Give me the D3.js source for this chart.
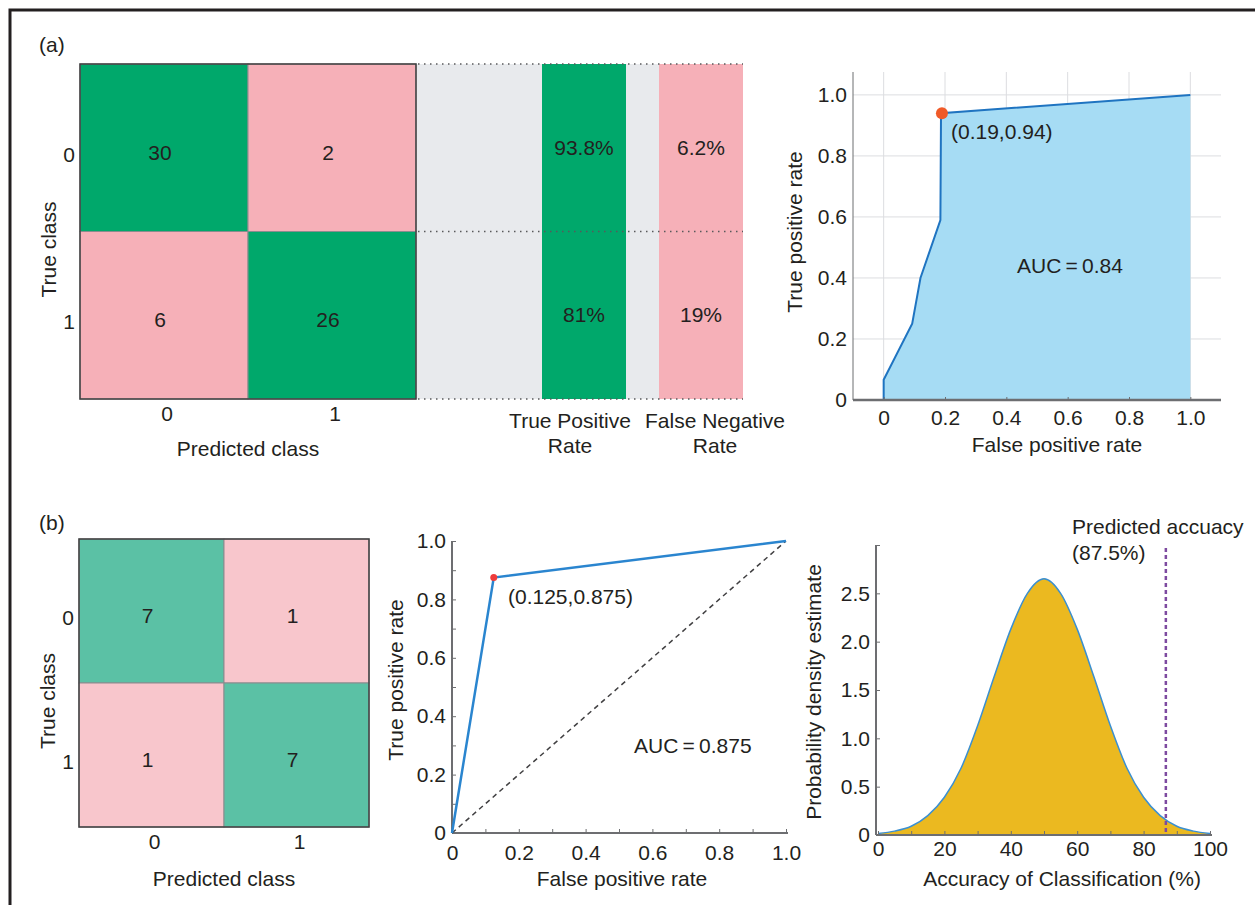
<!DOCTYPE html>
<html lang="en">
<head>
  <meta charset="UTF-8">
  <title>Classification results</title>
  <style>
    body {
      margin: 0;
      background: #fff;
    }
    svg text {
      font-family: 'Liberation Sans', Arial, sans-serif;
      font-size: 21px;
      fill: #231f20;
    }
    .axis path, .axis line {
      stroke: #6d6e71;
    }
    .axis text {
      font-size: 21px;
      fill: #231f20;
    }
  </style>
</head>
<body>
  <div id="chart"></div>

  <script src="https://d3js.org/d3.v7.min.js"></script>
  <script>
    // values
    const classLabels = ['0', '1'];
    const confA = [[30, 2], [6, 26]];
    const confB = [[7, 1], [1, 7]];
    const tprA = [93.8, 81];
    const fnrA = [6.2, 19];

    const rocAFpr = [0, 0, 0.093, 0.12, 0.185, 0.187, 1.0];
    const rocATpr = [0, 0.066, 0.25, 0.40, 0.59, 0.94, 1.0];
    const rocAPoint = [0.19, 0.94];

    const rocBFpr = [0, 0.125, 1];
    const rocBTpr = [0, 0.875, 1];
    const rocBPoint = [0.125, 0.875];

    const densX = [0, 5, 10, 15, 20, 25, 30, 35, 40, 45, 50, 55, 60, 65, 70, 75, 80, 85, 90, 95, 100];
    const densY = [0.015, 0.04, 0.09, 0.2, 0.39, 0.69, 1.13, 1.64, 2.13, 2.5, 2.65, 2.5, 2.13, 1.64, 1.13, 0.69, 0.39, 0.2, 0.09, 0.04, 0.015];
    const predictedAcc = 86.7;

    const rocTicks = [0, 0.2, 0.4, 0.6, 0.8, 1.0];
    const rocMinorTicks = [0, 0.1, 0.2, 0.3, 0.4, 0.5, 0.6, 0.7, 0.8, 0.9, 1.0];
    const densXTicks = [0, 10, 20, 30, 40, 50, 60, 70, 80, 90, 100];
    const densYTicks = [0, 0.5, 1.0, 1.5, 2.0, 2.5, 3.0];

    const green = '#00a86b', pink = '#f6b0b8';
    const greenB = '#5bc1a5', pinkB = '#f8c6cc';

    const svg = d3.select('#chart').append('svg')
      .attr('width', 1255)
      .attr('height', 905);

    // frame around the figure (only top and left edges fall inside the picture)
    svg.append('path')
      .attr('d', 'M10,905V10H1255')
      .attr('fill', 'none')
      .attr('stroke', '#231f20')
      .attr('stroke-width', 3);

    svg.append('text').attr('x', 39).attr('y', 52).text('(a)');
    svg.append('text').attr('x', 39).attr('y', 530).text('(b)');

    const fmtRoc = d => d === 0 ? '0' : d3.format('.1f')(d);

    // ---------- confusion matrix ----------
    function confusion(data, box, colors, labelY) {
      const x = d3.scaleBand().domain([0, 1]).range([box.x0, box.x1]);
      const y = d3.scaleBand().domain([0, 1]).range([box.y0, box.y1]);
      const cells = [];
      data.forEach((row, i) => row.forEach((v, j) => cells.push({ i, j, v })));

      const g = svg.append('g');
      g.selectAll('rect.cell')
        .data(cells)
        .enter().append('rect')
        .attr('class', 'cell')
        .attr('x', d => x(d.j))
        .attr('y', d => y(d.i))
        .attr('width', x.bandwidth())
        .attr('height', y.bandwidth())
        .attr('fill', d => d.i === d.j ? colors[0] : colors[1])
        .attr('stroke', '#8a8c8e')
        .attr('stroke-width', 1);

      g.selectAll('text.val')
        .data(cells)
        .enter().append('text')
        .attr('x', d => x(d.j) + x.bandwidth() / 2 - 4)
        .attr('y', d => y(d.i) + y.bandwidth() / 2 + 12)
        .attr('text-anchor', 'middle')
        .text(d => d.v);

      g.append('rect')
        .attr('x', box.x0).attr('y', box.y0)
        .attr('width', box.x1 - box.x0).attr('height', box.y1 - box.y0)
        .attr('fill', 'none')
        .attr('stroke', '#414042')
        .attr('stroke-width', 1.5);

      g.selectAll('text.ylab')
        .data(classLabels)
        .enter().append('text')
        .attr('x', box.x0 - 5)
        .attr('y', (d, i) => y(i) + y.bandwidth() / 2 + 14)
        .attr('text-anchor', 'end')
        .text(d => d);

      g.selectAll('text.xlab')
        .data(classLabels)
        .enter().append('text')
        .attr('x', (d, i) => x(i) + x.bandwidth() / 2 + 3)
        .attr('y', box.y1 + 22)
        .attr('text-anchor', 'middle')
        .text(d => d);

      g.append('text')
        .attr('x', (box.x0 + box.x1) / 2)
        .attr('y', box.y1 + labelY)
        .attr('text-anchor', 'middle')
        .text('Predicted class');

      g.append('text')
        .attr('transform', `translate(${box.x0 - 24},${(box.y0 + box.y1) / 2 + 18}) rotate(-90)`)
        .attr('text-anchor', 'middle')
        .text('True class');
      return y;
    }

    const yA = confusion(confA, { x0: 80, x1: 416, y0: 64, y1: 399 }, [green, pink], 57);
    confusion(confB, { x0: 79, x1: 369, y0: 539, y1: 827 }, [greenB, pinkB], 59);

    // ---------- rate bars next to matrix (a) ----------
    const rateCols = d3.scaleOrdinal().domain(['tpr', 'fnr']).range([[542, 626], [659, 743]]);
    svg.append('rect')
      .attr('x', 417).attr('y', 64)
      .attr('width', 326).attr('height', 335)
      .attr('fill', '#e8eaed');

    const rateData = [
      { key: 'tpr', vals: tprA, color: green, lines: ['True Positive', 'Rate'], cx: 570 },
      { key: 'fnr', vals: fnrA, color: pink, lines: ['False Negative', 'Rate'], cx: 715 }
    ];
    rateData.forEach(r => {
      const [c0, c1] = rateCols(r.key);
      svg.append('rect')
        .attr('x', c0).attr('y', 64)
        .attr('width', c1 - c0).attr('height', 335)
        .attr('fill', r.color);
      svg.selectAll(null)
        .data(r.vals)
        .enter().append('text')
        .attr('x', (c0 + c1) / 2)
        .attr('y', (d, i) => yA(i) + yA.bandwidth() / 2 + 7)
        .attr('text-anchor', 'middle')
        .text(d => d + '%');
      svg.selectAll(null)
        .data(r.lines)
        .enter().append('text')
        .attr('x', r.cx)
        .attr('y', (d, i) => 428 + i * 25)
        .attr('text-anchor', 'middle')
        .text(d => d);
    });

    [64, 231.5, 399].forEach(yy => {
      svg.append('line')
        .attr('x1', 418).attr('x2', 743)
        .attr('y1', yy).attr('y2', yy)
        .attr('stroke', '#58595b')
        .attr('stroke-width', 1.5)
        .attr('stroke-dasharray', '1.5,4.5');
    });

    // ---------- ROC (a) ----------
    (function () {
      const x = d3.scaleLinear().domain([-0.1, 1.1]).range([853, 1221]);
      const y = d3.scaleLinear().domain([0, 1.075]).range([400, 72]);
      const g = svg.append('g');

      g.selectAll('line.gx')
        .data(rocTicks)
        .enter().append('line')
        .attr('x1', d => x(d)).attr('x2', d => x(d))
        .attr('y1', y(0)).attr('y2', 72)
        .attr('stroke', '#dcdde0');
      g.selectAll('line.gy')
        .data(rocTicks.slice(1))
        .enter().append('line')
        .attr('x1', 853).attr('x2', 1221)
        .attr('y1', d => y(d)).attr('y2', d => y(d))
        .attr('stroke', '#dcdde0');

      const pts = rocAFpr.map((f, i) => [f, rocATpr[i]]);
      g.append('path')
        .datum(pts)
        .attr('fill', '#a6dcf4')
        .attr('d', d3.area().x(d => x(d[0])).y0(y(0)).y1(d => y(d[1])));
      g.append('path')
        .datum(pts)
        .attr('fill', 'none')
        .attr('stroke', '#1f74c1')
        .attr('stroke-width', 2)
        .attr('d', d3.line().x(d => x(d[0])).y(d => y(d[1])));

      g.append('g').attr('class', 'axis')
        .attr('transform', 'translate(853,0)')
        .call(d3.axisLeft(y).tickValues(rocTicks).tickFormat(fmtRoc).tickSize(0).tickPadding(6))
        .call(a => a.select('.domain').attr('d', `M0,72V${y(0)}`).attr('stroke', '#808285'));

      g.append('g').attr('class', 'axis')
        .attr('transform', `translate(0,${y(0)})`)
        .call(d3.axisBottom(x).tickValues(rocTicks).tickFormat(fmtRoc).tickSize(-3).tickPadding(10))
        .call(a => a.select('.domain').attr('d', 'M853,0H1221').attr('stroke', '#414042').attr('stroke-width', 2.5));

      g.append('circle')
        .attr('cx', x(rocAPoint[0])).attr('cy', y(rocAPoint[1]))
        .attr('r', 6)
        .attr('fill', '#f05a28');
      g.append('text').attr('x', 951).attr('y', 139)
        .text(`(${rocAPoint[0]},${rocAPoint[1]})`);
      g.append('text').attr('x', 1017).attr('y', 273)
        .text('AUC\u2009=\u20090.84');
      g.append('text').attr('x', 1057).attr('y', 452)
        .attr('text-anchor', 'middle').text('False positive rate');
      g.append('text')
        .attr('transform', 'translate(802,232) rotate(-90)')
        .attr('text-anchor', 'middle').text('True positive rate');
    })();

    // ---------- ROC (b) ----------
    (function () {
      const x = d3.scaleLinear().domain([0, 1]).range([452, 786]);
      const y = d3.scaleLinear().domain([0, 1]).range([833, 541]);
      const g = svg.append('g');
      const minorFmt = d => rocTicks.some(t => Math.abs(t - d) < 1e-9) ? fmtRoc(d) : '';

      g.append('g').attr('class', 'axis')
        .attr('transform', `translate(0,${y(0)})`)
        .call(d3.axisBottom(x).tickValues(rocMinorTicks).tickFormat(minorFmt).tickSize(-4).tickPadding(12))
        .call(a => a.select('.domain').attr('d', 'M452,0H788').attr('stroke-width', 2));
      g.append('g').attr('class', 'axis')
        .attr('transform', `translate(${x(0)},0)`)
        .call(d3.axisLeft(y).tickValues(rocMinorTicks).tickFormat(minorFmt).tickSize(-4).tickPadding(6))
        .call(a => a.select('.domain').attr('d', `M0,541V${y(0)}`).attr('stroke-width', 2));

      g.append('line')
        .attr('x1', x(0)).attr('y1', y(0))
        .attr('x2', x(1)).attr('y2', y(1))
        .attr('stroke', '#414042')
        .attr('stroke-width', 1.5)
        .attr('stroke-dasharray', '5,4');

      const pts = rocBFpr.map((f, i) => [f, rocBTpr[i]]);
      g.append('path')
        .datum(pts)
        .attr('fill', 'none')
        .attr('stroke', '#2a85cf')
        .attr('stroke-width', 2.5)
        .attr('d', d3.line().x(d => x(d[0])).y(d => y(d[1])));

      g.append('circle')
        .attr('cx', x(rocBPoint[0])).attr('cy', y(rocBPoint[1]))
        .attr('r', 3.5)
        .attr('fill', '#ee3b3b');
      g.append('text').attr('x', 508).attr('y', 604)
        .text(`(${rocBPoint[0]},${rocBPoint[1]})`);
      g.append('text').attr('x', 634).attr('y', 753)
        .text('AUC\u2009=\u20090.875');
      g.append('text').attr('x', 622).attr('y', 886)
        .attr('text-anchor', 'middle').text('False positive rate');
      g.append('text')
        .attr('transform', 'translate(403,680) rotate(-90)')
        .attr('text-anchor', 'middle').text('True positive rate');
    })();

    // ---------- probability density ----------
    (function () {
      const x = d3.scaleLinear().domain([0, 100]).range([878, 1210]);
      const y = d3.scaleLinear().domain([0, 3]).range([835, 545]);
      const g = svg.append('g');
      const pts = densX.map((v, i) => [v, densY[i]]);

      g.append('path')
        .datum(pts)
        .attr('fill', '#ebb920')
        .attr('d', d3.area().curve(d3.curveMonotoneX).x(d => x(d[0])).y0(y(0)).y1(d => y(d[1])));
      g.append('path')
        .datum(pts)
        .attr('fill', 'none')
        .attr('stroke', '#3b8fd0')
        .attr('stroke-width', 1.5)
        .attr('d', d3.line().curve(d3.curveMonotoneX).x(d => x(d[0])).y(d => y(d[1])));

      g.append('g').attr('class', 'axis')
        .attr('transform', `translate(0,${y(0)})`)
        .call(d3.axisBottom(x).tickValues(densXTicks).tickFormat(d => d % 20 === 0 ? d : '').tickSize(-4).tickPadding(6))
        .call(a => a.select('.domain').attr('d', 'M876,0H1212').attr('stroke-width', 2));
      g.append('g').attr('class', 'axis')
        .attr('transform', 'translate(876,0)')
        .call(d3.axisLeft(y).tickValues(densYTicks).tickFormat(d => d === 0 ? '0' : d === 3 ? '' : d3.format('.1f')(d)).tickSize(-4).tickPadding(6))
        .call(a => a.select('.domain').attr('d', `M0,545V${y(0)}`).attr('stroke-width', 2));

      g.append('line')
        .attr('x1', x(predictedAcc)).attr('x2', x(predictedAcc))
        .attr('y1', y(2.97)).attr('y2', y(0))
        .attr('stroke', '#7d4aa0')
        .attr('stroke-width', 2.5)
        .attr('stroke-dasharray', '4,3');

      g.append('text').attr('x', 1072).attr('y', 534).text('Predicted accuacy');
      g.append('text').attr('x', 1072).attr('y', 560).text('(87.5%)');
      g.append('text').attr('x', 1062).attr('y', 886)
        .attr('text-anchor', 'middle').text('Accuracy of Classification (%)');
      g.append('text')
        .attr('transform', 'translate(821,692) rotate(-90)')
        .attr('text-anchor', 'middle').text('Probability density estimate');
    })();
  </script>
</body>
</html>
